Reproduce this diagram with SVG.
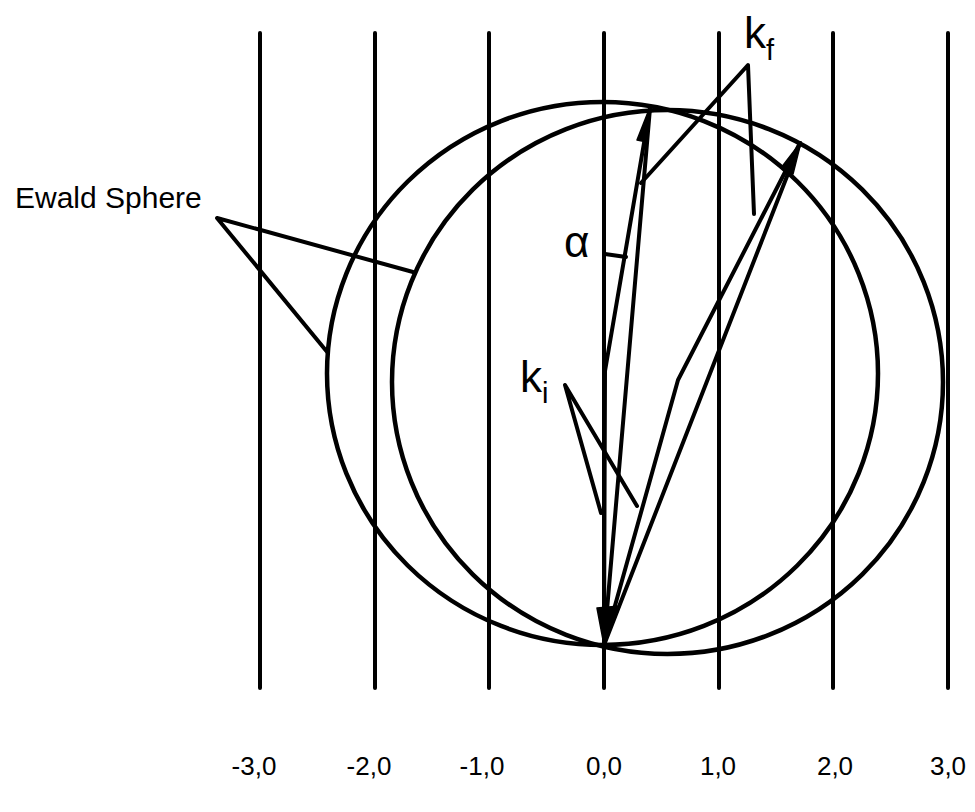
<svg xmlns="http://www.w3.org/2000/svg" width="975" height="812" viewBox="0 0 975 812">
<style>
.ln{stroke:#000;stroke-width:4;fill:none;stroke-linecap:round;stroke-linejoin:round}
.sph{stroke:#000;stroke-width:4.5;fill:none}
.ah{fill:#000;stroke:#000;stroke-width:1.5;stroke-linejoin:round}
.t{font-family:"Liberation Sans",Arial,Helvetica,sans-serif;fill:#000}
.tick{font-size:26px;text-anchor:middle}
</style>
<rect width="975" height="812" fill="#fff"/>
<g id="lattice">
<line class="ln" x1="260" y1="33" x2="260" y2="688"/>
<line class="ln" x1="375" y1="33" x2="375" y2="688"/>
<line class="ln" x1="489" y1="33" x2="489" y2="688"/>
<line class="ln" x1="604" y1="33" x2="604" y2="688"/>
<line class="ln" x1="719" y1="33" x2="719" y2="688"/>
<line class="ln" x1="833" y1="33" x2="833" y2="688"/>
<line class="ln" x1="948" y1="33" x2="948" y2="688"/>
</g>
<g id="sphereA"><ellipse class="sph" cx="602.5" cy="373.5" rx="275.5" ry="271.5"/></g>
<g id="sphereB"><ellipse class="sph" cx="667.5" cy="382" rx="275.5" ry="272"/></g>
<g id="connectors">
<polyline class="ln" points="650,108 605,371 604,645"/>
<line class="ln" x1="604" y1="645" x2="650" y2="108"/>
<polyline class="ln" points="800,143 678,380 604,645"/>
<line class="ln" x1="604" y1="645" x2="800" y2="143"/>
<polygon class="ah" points="650,107 637,140 647,142"/>
<polygon class="ah" points="801,142 781,168 793,174"/>
<polygon class="ah" points="597,608 620,606 604,645"/>
<line class="ln" x1="605" y1="254" x2="626" y2="257"/>
<polyline class="ln" points="641,183 748,65 754,214"/>
<polyline class="ln" points="601,513 565,385 637,506"/>
<polyline class="ln" points="413,272 217,218 328,353"/>
</g>
<g id="labels">
<text class="t" x="15" y="208" font-size="30">Ewald Sphere</text>
<text class="t" x="744" y="48" font-size="44">k<tspan font-size="29" dy="12">f</tspan></text>
<text class="t" x="520" y="392" font-size="44">k<tspan font-size="29" dy="11">i</tspan></text>
<text class="t" x="564" y="257" font-size="44">α</text>
</g>
<g id="ticks">
<text class="t tick" x="254" y="775">-3,0</text>
<text class="t tick" x="369" y="775">-2,0</text>
<text class="t tick" x="482" y="775">-1,0</text>
<text class="t tick" x="604" y="775">0,0</text>
<text class="t tick" x="718" y="775">1,0</text>
<text class="t tick" x="835" y="775">2,0</text>
<text class="t tick" x="948" y="775">3,0</text>
</g>
</svg>
